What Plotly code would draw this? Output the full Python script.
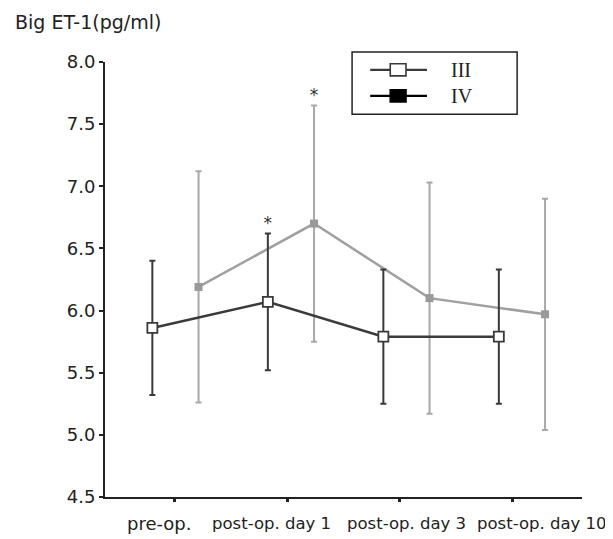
import plotly.graph_objects as go

categories = ["pre-op.", "post-op. day 1", "post-op. day 3", "post-op. day 10"]
iii_mean = [5.86, 6.07, 5.79, 5.79]
iii_sd = [0.54, 0.55, 0.54, 0.54]
iv_mean = [6.19, 6.70, 6.10, 5.97]
iv_sd = [0.93, 0.95, 0.93, 0.93]
iii_star = [False, True, False, False]
iv_star = [False, True, False, False]
y_ticks = [4.5, 5.0, 5.5, 6.0, 6.5, 7.0, 7.5, 8.0]
legend_names = ["III", "IV"]

# layout-only settings
idx = list(range(len(categories)))
off_iii, off_iv = -0.2, 0.2
tick_shift = [-0.01, -0.03, -0.06, -0.08]
label_shift = [-0.134, -0.165, 0.004, 0.173]
label_size = [18, 16.5, 16.5, 16.5]
x_iii = [i + off_iii for i in idx]
x_iv = [i + off_iv for i in idx]

DARK = "#3a3a3a"
GRAY = "#a0a0a0"
FONT = "DejaVu Sans"

fig = go.Figure()
fig.add_trace(go.Scatter(
    x=x_iv, y=iv_mean, mode="lines+markers", showlegend=False,
    line=dict(color=GRAY, width=2.5),
    marker=dict(symbol="square", size=8, color="#999999"),
    error_y=dict(type="data", array=iv_sd, color="#a8a8a8", thickness=2, width=3),
))
fig.add_trace(go.Scatter(
    x=x_iii, y=iii_mean, mode="lines+markers", showlegend=False,
    line=dict(color=DARK, width=2.5),
    marker=dict(symbol="square", size=10, color="white", line=dict(color=DARK, width=1.8)),
    error_y=dict(type="data", array=iii_sd, color=DARK, thickness=2, width=3),
))
# significance stars
sx, sy = [], []
for xs, m, s, st in [(x_iii, iii_mean, iii_sd, iii_star), (x_iv, iv_mean, iv_sd, iv_star)]:
    for a, b, c, d in zip(xs, m, s, st):
        if d:
            sx.append(a); sy.append(b + c)
fig.add_trace(go.Scatter(x=sx, y=sy, mode="text", text=["*"] * len(sx), textposition="top center",
                         textfont=dict(size=17, color="#333", family=FONT), showlegend=False))

# manual legend box (paper coordinates)
shapes = [dict(type="rect", xref="paper", yref="paper", x0=0.518, x1=0.864, y0=0.880, y1=1.023,
               line=dict(color="#222", width=1.5), fillcolor="white", layer="above")]
annotations = [dict(text="Big ET-1(pg/ml)", xref="paper", yref="paper",
                    x=-0.193, y=1.092, xanchor="left", yanchor="middle",
                    showarrow=False, font=dict(size=19, color="#222", family=FONT))]
leg_style = [(DARK, "white", DARK), ("black", "black", "black")]
for k, (name, (lc, fc, mc)) in enumerate(zip(legend_names, leg_style)):
    yc = 0.982 - k * 0.060
    shapes.append(dict(type="line", xref="paper", yref="paper", x0=0.556, x1=0.675, y0=yc, y1=yc,
                       line=dict(color=lc, width=2.2), layer="above"))
    shapes.append(dict(type="rect", xref="paper", yref="paper", x0=0.598, x1=0.631,
                       y0=yc - 0.014, y1=yc + 0.014, line=dict(color=mc, width=1.6),
                       fillcolor=fc, layer="above"))
    annotations.append(dict(text=name, xref="paper", yref="paper", x=0.722, y=yc,
                            xanchor="left", yanchor="middle", showarrow=False,
                            font=dict(size=20, color="#222", family="Liberation Serif")))
# category labels
for i, (c, sh, fs) in enumerate(zip(categories, label_shift, label_size)):
    annotations.append(dict(text=c, xref="x", yref="paper", x=i + sh, y=-0.062,
                            xanchor="center", yanchor="middle", showarrow=False,
                            font=dict(size=fs, color="#222", family=FONT)))

fig.update_layout(
    width=613, height=539,
    margin=dict(l=97, r=39, t=54, b=50),
    plot_bgcolor="white", paper_bgcolor="white",
    font=dict(family=FONT, color="#222", size=15),
    showlegend=False,
    shapes=shapes, annotations=annotations,
)
fig.update_xaxes(range=[-0.61, 3.52], tickvals=[i + s for i, s in zip(idx, tick_shift)],
                 showticklabels=False,
                 showline=True, linecolor="#222", linewidth=1.8,
                 ticks="outside", ticklen=3, tickwidth=3, tickcolor="#222",
                 showgrid=False, zeroline=False, automargin=False)
fig.update_yaxes(range=[4.5, 8.0], tickvals=y_ticks, tickformat=".1f",
                 showline=True, linecolor="#222", linewidth=1.8,
                 ticks="outside", ticklen=4, tickwidth=2, tickcolor="#222",
                 showgrid=False, zeroline=False, tickfont=dict(size=18), automargin=False)

fig.write_html("out.html")
